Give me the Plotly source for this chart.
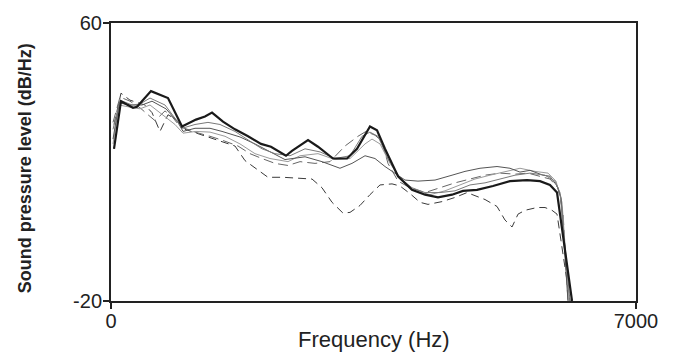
import plotly.graph_objects as go

# Thick black solid
f1 = [40,133,293,347,533,760,947,1133,1253,1347,1493,1653,1827,2000,2133,2333,2413,2627,2760,2960,3147,3280,3453,3547,3653,3827,4013,4187,4360,4547,4693,4880,5093,5320,5547,5720,5853,5947,6147]
d1 = [23.8,37.5,35.6,35.9,40.4,38.4,30.2,32.2,33.1,34.2,31.6,29.4,27.4,25.2,24.4,21.8,23.2,26.3,24.4,21.0,21.0,23.8,30.2,29.1,23.8,15.9,12.0,10.6,9.8,10.6,11.7,12.0,13.1,14.5,14.8,14.5,13.4,11.2,-20]

# Thin grey solid (upper at high frequencies)
f2 = [27,107,253,413,547,733,893,960,1120,1320,1480,1720,1920,2120,2320,2587,2813,3053,3213,3387,3520,3653,3787,3920,4093,4320,4547,4720,4920,5147,5320,5453,5587,5760,5853,5947,6000,6093]
d2 = [26.6,37.0,36.4,36.4,37.5,35.3,31.4,28.8,29.7,29.7,28.8,27.2,25.2,22.9,20.7,21.5,20.1,18.2,19.6,21.8,21.0,18.7,16.8,14.8,14.5,14.8,16.2,17.3,18.2,18.7,18.2,17.1,17.6,16.2,15.9,13.1,9.8,-20]

# Thin grey solid (close to black)
f3 = [27,120,280,387,520,720,867,947,1120,1293,1453,1653,1853,2013,2187,2387,2587,2787,2987,3187,3347,3453,3560,3693,3853,4013,4187,4387,4587,4787,4987,5187,5387,5587,5787,5920,5987,6120]
d3 = [29.4,37.8,36.4,36.7,38.4,36.4,32.2,29.7,30.8,31.4,30.8,28.8,26.0,23.8,22.4,21.8,23.8,22.9,21.0,21.8,27.4,28.6,27.4,21.0,15.4,12.6,11.2,11.2,11.7,13.4,14.0,15.1,16.2,16.8,16.2,14.5,11.2,-20]

# Thin light grey solid
f4 = [27,107,227,387,520,680,853,960,1133,1320,1520,1720,1920,2120,2360,2520,2760,2987,3187,3387,3480,3587,3720,3880,4053,4253,4453,4653,4853,5053,5253,5453,5653,5827,5933,6013,6107]
d4 = [25.2,36.4,35.9,35.3,36.4,33.6,30.8,28.3,28.8,28.6,27.4,25.2,22.4,21.0,20.1,21.8,22.4,20.7,21.0,25.2,26.6,25.2,19.6,14.5,11.7,10.6,11.7,13.4,15.1,16.2,17.3,18.2,17.3,16.8,14.5,8.4,-20]

# Grey dashed
f5 = [27,120,253,387,493,587,720,813,920,1120,1320,1480,1693,1853,2013,2187,2360,2520,2720,2920,3120,3293,3400,3520,3613,3693,3827,3987,4187,4387,4587,4787,4987,5187,5387,5560,5720,5853,5960,6027,6093]
d5 = [31.4,38.7,37.5,35.6,33.6,31.9,34.7,33.1,30.2,28.6,27.4,26.3,24.6,22.4,21.0,19.6,19.0,20.1,19.6,20.1,24.6,27.4,28.8,27.7,26.0,19.6,14.5,12.6,11.2,12.6,14.0,15.1,16.2,16.8,16.5,16.8,15.9,15.1,12.6,5.5,-20]

# Dark dashed (lowest)
f6 = [40,133,253,453,547,653,760,867,987,1187,1453,1653,1787,1920,2093,2293,2453,2680,2813,2947,3093,3187,3320,3453,3587,3747,3853,3987,4120,4227,4413,4587,4747,4987,5147,5253,5347,5427,5520,5680,5787,5880,5947,6120]
d6 = [30.8,39.8,37.8,36.4,34.2,28.8,33.6,32.2,29.4,28.0,26.0,24.6,20.4,18.2,15.6,15.6,15.4,15.1,12.6,8.4,5.3,5.5,7.5,10.6,13.4,13.7,13.1,10.9,8.4,7.8,8.6,9.8,11.2,9.2,7.2,3.3,1.3,5.0,6.1,6.9,6.9,6.1,5.0,-20]

x_ticks = [0, 7000]
y_ticks = [-20, 60]

fig = go.Figure()
series = [
    (f6, d6, dict(color="#3a3a3a", width=1, dash="8px,5px")),
    (f5, d5, dict(color="#666666", width=1, dash="10px,5px")),
    (f4, d4, dict(color="#9a9a9a", width=1)),
    (f2, d2, dict(color="#555555", width=1)),
    (f3, d3, dict(color="#7a7a7a", width=1)),
    (f1, d1, dict(color="#1a1a1a", width=2.2)),
]
for fx, dy, ln in series:
    fig.add_trace(go.Scatter(x=fx, y=dy, mode="lines", line=ln, showlegend=False, hoverinfo="skip"))

axis_common = dict(
    showgrid=False, zeroline=False, showline=True, linecolor="#222222", linewidth=2,
    mirror=True, ticks="outside", ticklen=6, tickwidth=2, tickcolor="#222222",
    tickfont=dict(family="Liberation Sans, Arial, sans-serif", size=20, color="#222222"),
)
fig.update_xaxes(range=[0, 7000], tickvals=x_ticks, ticktext=[str(v) for v in x_ticks],
                 ticklabelstandoff=-5, **axis_common)
fig.update_yaxes(range=[-20, 60], tickvals=y_ticks, ticktext=[str(v) for v in y_ticks],
                 ticklabelstandoff=-3, **axis_common)

fig.add_annotation(
    text="<b>Sound pressure level (dB/Hz)</b>", textangle=-90,
    xref="paper", yref="paper", x=-0.164, y=0.477, xanchor="center", yanchor="middle",
    showarrow=False, font=dict(family="Liberation Sans, Arial, sans-serif", size=18, color="#222222"),
)
fig.add_annotation(
    text="Frequency (Hz)",
    xref="paper", yref="paper", x=0.5, y=-0.137, xanchor="center", yanchor="middle",
    showarrow=False, font=dict(family="Liberation Sans, Arial, sans-serif", size=22, color="#222222"),
)

fig.update_layout(
    width=677, height=356,
    margin=dict(l=111, r=41, t=16, b=55),
    paper_bgcolor="white", plot_bgcolor="white",
)

fig.write_html(
    "out.html",
    config={"displayModeBar": False},
    post_script="document.body.style.margin='0px';document.body.style.overflow='hidden';",
)
